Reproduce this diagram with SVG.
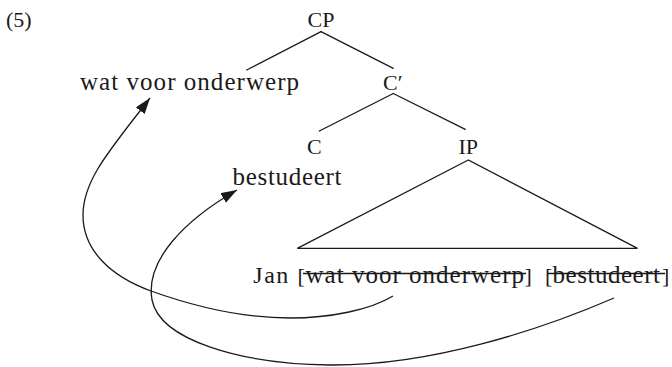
<svg xmlns="http://www.w3.org/2000/svg" width="672" height="367" viewBox="0 0 672 367">
  <style>
    text { font-family: "Liberation Serif", "Times New Roman", serif; font-size: 22px; fill: #1a1a1a; }
    .lc { font-size: 25px; }
    .edge { stroke: #1a1a1a; stroke-width: 1.3; fill: none; stroke-linecap: round; }
    .move { stroke: #1a1a1a; stroke-width: 1.3; fill: none; }
    .strike { stroke: #1a1a1a; stroke-width: 1.3; }
  </style>
  <defs>
    <marker id="arrow" markerUnits="userSpaceOnUse" markerWidth="17" markerHeight="12" refX="16" refY="5.5" orient="auto">
      <path d="M0,0 L16,5.5 L0,11 z" fill="#1a1a1a"/>
    </marker>
  </defs>
  <rect width="672" height="367" fill="#ffffff"/>

  <g id="label-5"><text x="6" y="27">(5)</text></g>

  <g id="node-CP"><text x="321" y="26.5" text-anchor="middle">CP</text></g>
  <g id="node-spec"><text class="lc" x="80" y="90" textLength="219" lengthAdjust="spacing">wat voor onderwerp</text></g>
  <g id="node-Cbar"><text x="383" y="90">C′</text></g>
  <g id="node-C"><text x="307" y="154">C</text></g>
  <g id="node-bestudeert"><text class="lc" x="232.5" y="185" textLength="109" lengthAdjust="spacing">bestudeert</text></g>
  <g id="node-IP"><text x="458.5" y="154">IP</text></g>
  <g id="node-terminal">
    <text y="283.3"><tspan x="253.3" style="font-size:24px" textLength="35" lengthAdjust="spacing">Jan</tspan><tspan x="297.5">[</tspan><tspan class="lc" x="305.5" textLength="218.5" lengthAdjust="spacing">wat voor onderwerp</tspan><tspan x="524.5">]</tspan><tspan x="545">[</tspan><tspan class="lc" x="552.5" textLength="107.5" lengthAdjust="spacing">bestudeert</tspan><tspan x="662">]</tspan></text>
    <line class="strike" x1="303" y1="273.5" x2="526" y2="273.5"/>
    <line class="strike" x1="548" y1="273.5" x2="665" y2="273.5"/>
  </g>

  <g id="connectors">
    <line class="edge" x1="321" y1="31.7" x2="246.7" y2="70"/>
    <line class="edge" x1="321" y1="31.7" x2="393.3" y2="68.3"/>
    <line class="edge" x1="393.3" y1="93.5" x2="319.3" y2="131"/>
    <line class="edge" x1="393.3" y1="93.5" x2="465.3" y2="129.3"/>
    <path class="edge" d="M468.3,160 L297.3,248.3 L637.5,248.3 Z" stroke-linejoin="miter"/>
    <path class="move" marker-end="url(#arrow)" d="M393,296 C370,310 330,318 290,318 C240,318 190,305 151,291 C110,276 83,250 83,215 C83,180 110,150 150,98"/>
    <path class="move" marker-end="url(#arrow)" d="M614,298 C540,330 430,366 330,365 C240,364 160,340 152,300 C145,260 185,220 237,190"/>
  </g>
</svg>
